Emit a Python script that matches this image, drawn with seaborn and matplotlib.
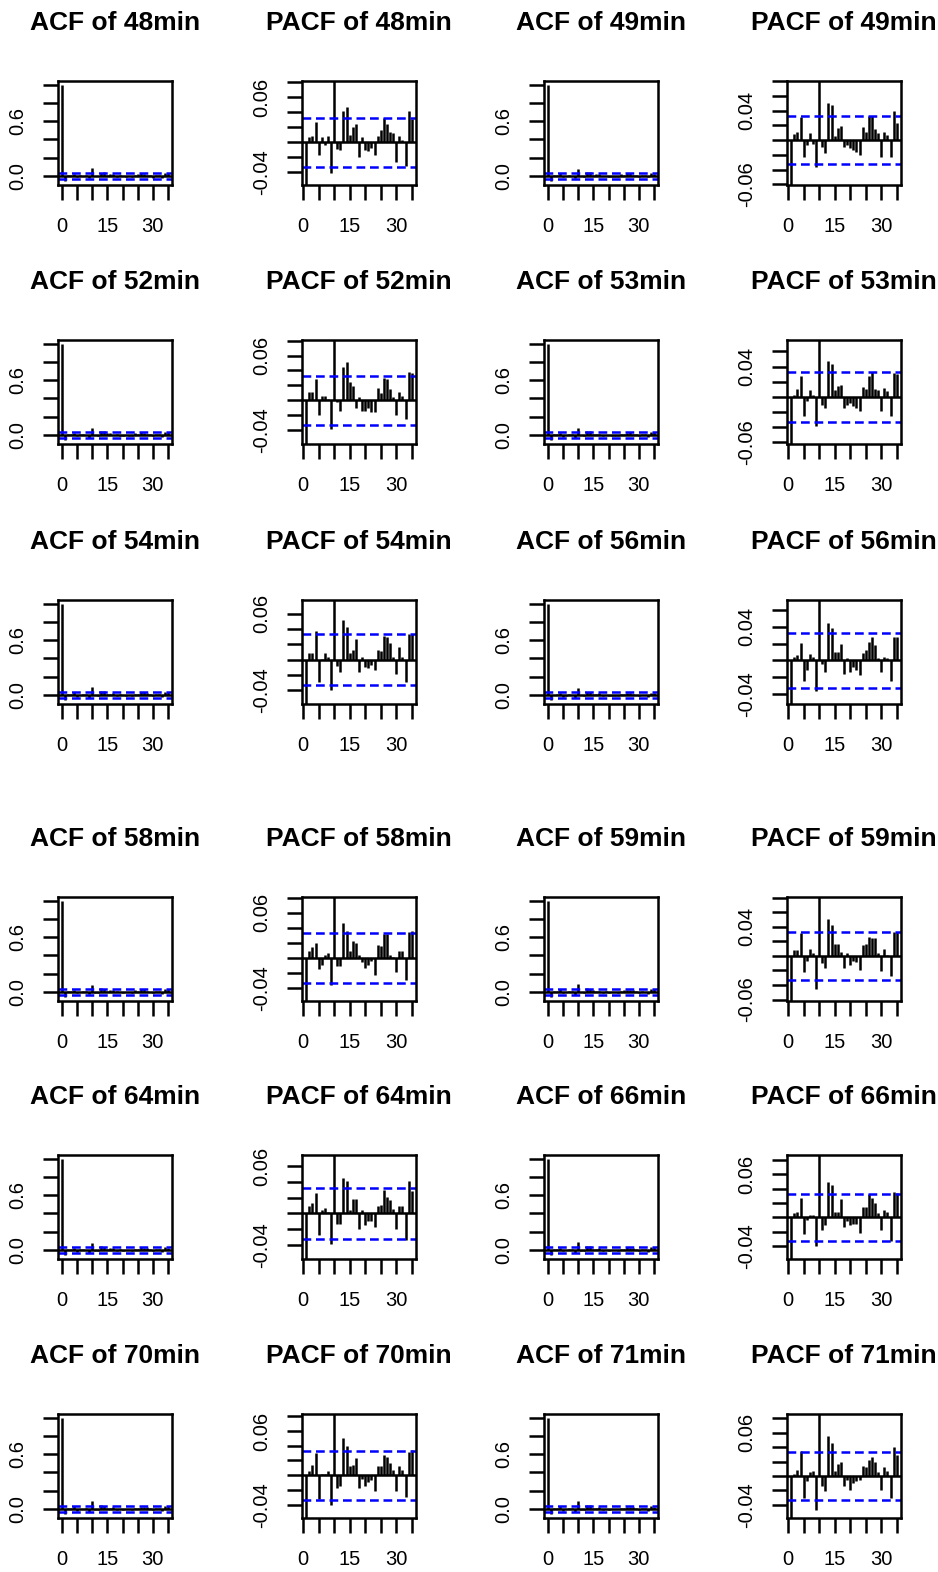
import numpy as np
import matplotlib
matplotlib.use("Agg")
import matplotlib.pyplot as plt
from matplotlib.ticker import FixedLocator, FixedFormatter
import seaborn as sns

# ---------------- data ----------------
series_names = ["48min", "49min", "52min", "53min", "54min", "56min",
                "58min", "59min", "64min", "66min", "70min", "71min"]

# ACF values, lags 0..35
acf_48 = [1.0, -0.060, 0.008, 0.010, 0.022, -0.015, 0.006, -0.004, 0.010, -0.030, 0.080, -0.008, -0.006, 0.035, 0.040, 0.012, 0.018, 0.020, -0.015, 0.006, -0.008, -0.010, -0.008, -0.015, 0.008, 0.014, 0.026, 0.022, 0.012, 0.010, -0.020, 0.007, 0.004, -0.025, 0.034, 0.026]
acf_49 = [1.0, -0.060, 0.007, 0.010, 0.026, -0.019, -0.006, 0.008, -0.004, -0.028, 0.078, -0.007, -0.015, 0.042, 0.040, 0.005, 0.014, 0.016, -0.008, -0.006, -0.009, -0.012, -0.013, -0.016, 0.014, 0.009, 0.028, 0.027, 0.013, 0.008, -0.019, 0.009, 0.006, -0.019, 0.033, 0.020]
acf_52 = [1.0, -0.060, 0.009, 0.009, 0.023, -0.016, 0.005, 0.005, 0.002, -0.031, 0.078, -0.003, -0.012, 0.037, 0.043, 0.020, 0.016, -0.008, 0.004, -0.012, -0.011, -0.008, -0.013, -0.013, 0.014, 0.008, 0.025, 0.024, 0.012, 0.004, -0.016, 0.009, 0.005, -0.021, 0.031, 0.030]
acf_53 = [1.0, -0.060, 0.003, 0.009, 0.022, -0.021, -0.004, 0.008, 0.003, -0.031, 0.076, -0.008, -0.012, 0.039, 0.036, 0.008, 0.012, 0.013, -0.012, -0.008, -0.007, -0.010, -0.012, -0.015, 0.011, 0.008, 0.022, 0.027, 0.008, 0.008, -0.015, 0.010, 0.007, -0.021, 0.027, 0.025]
acf_54 = [1.0, -0.060, 0.008, 0.008, 0.031, -0.024, 0.001, 0.008, 0.004, -0.033, 0.080, -0.007, -0.013, 0.043, 0.036, 0.008, 0.011, 0.022, -0.013, 0.004, -0.008, -0.009, -0.006, -0.011, 0.011, 0.009, 0.026, 0.025, 0.018, 0.004, -0.016, 0.013, 0.004, -0.024, 0.028, 0.028]
acf_56 = [1.0, -0.058, 0.004, 0.005, 0.018, -0.020, -0.010, 0.007, 0.004, -0.030, 0.074, -0.004, -0.012, 0.036, 0.032, 0.008, 0.008, 0.017, -0.013, 0.003, -0.012, -0.007, -0.010, -0.014, 0.008, 0.010, 0.018, 0.023, 0.015, 0.003, -0.012, 0.004, 0.003, -0.020, 0.023, 0.023]
acf_58 = [1.0, -0.060, 0.008, 0.012, 0.017, -0.012, -0.008, 0.004, 0.006, -0.030, 0.078, -0.009, -0.009, 0.039, 0.030, 0.008, 0.018, 0.017, 0.004, -0.004, -0.011, -0.008, -0.004, -0.018, 0.014, 0.013, 0.027, 0.026, 0.004, 0.002, -0.015, 0.008, 0.008, -0.024, 0.029, 0.030]
acf_59 = [1.0, -0.060, 0.007, 0.007, 0.026, -0.018, -0.006, 0.008, 0.004, -0.037, 0.080, -0.008, -0.014, 0.042, 0.035, 0.014, 0.013, 0.005, -0.014, 0.004, -0.010, -0.006, -0.008, -0.016, 0.013, 0.014, 0.022, 0.020, 0.020, 0.004, -0.017, 0.008, 0.001, -0.023, 0.027, 0.027]
acf_64 = [1.0, -0.060, 0.008, 0.011, 0.022, -0.023, 0.004, 0.006, 0.002, -0.032, 0.076, -0.011, -0.011, 0.037, 0.035, 0.004, 0.015, 0.015, -0.017, 0.004, -0.012, -0.008, -0.008, -0.014, 0.008, 0.009, 0.025, 0.018, 0.014, 0.005, -0.017, 0.008, 0.008, -0.028, 0.035, 0.024]
acf_66 = [1.0, -0.060, 0.005, 0.007, 0.022, -0.019, -0.004, 0.003, 0.003, -0.033, 0.082, -0.015, -0.009, 0.041, 0.037, 0.006, 0.007, 0.021, -0.011, -0.004, -0.009, -0.008, -0.008, -0.018, 0.013, 0.013, 0.027, 0.022, 0.017, 0.005, -0.014, 0.009, 0.007, -0.027, 0.029, 0.028]
acf_70 = [1.0, -0.060, 0.005, 0.012, 0.025, -0.027, 0.001, 0.001, 0.005, -0.033, 0.080, -0.015, -0.012, 0.042, 0.032, 0.010, 0.012, 0.019, -0.014, -0.004, -0.012, -0.008, -0.005, -0.017, 0.010, 0.010, 0.023, 0.021, 0.014, 0.006, -0.018, 0.010, 0.006, -0.025, 0.027, 0.028]
acf_71 = [1.0, -0.060, 0.003, 0.008, 0.029, -0.025, -0.006, 0.004, 0.006, -0.039, 0.082, -0.012, -0.017, 0.045, 0.037, 0.006, 0.013, 0.016, -0.012, -0.005, -0.016, -0.008, -0.006, -0.004, 0.012, 0.010, 0.018, 0.022, 0.016, 0.004, -0.017, 0.010, 0.006, -0.025, 0.033, 0.024]

# PACF values, lags 1..35
pacf_48 = [-0.065, 0.007, 0.008, 0.027, -0.017, 0.007, -0.004, 0.009, -0.041, 0.090, -0.009, -0.010, 0.042, 0.047, 0.010, 0.020, 0.025, -0.019, 0.007, -0.010, -0.012, -0.008, -0.017, 0.009, 0.016, 0.032, 0.025, 0.014, 0.012, -0.026, 0.008, 0.003, -0.032, 0.042, 0.031]
pacf_49 = [-0.065, 0.008, 0.011, 0.031, -0.023, -0.007, 0.009, -0.005, -0.036, 0.090, -0.009, -0.018, 0.050, 0.048, 0.005, 0.016, 0.019, -0.009, -0.007, -0.011, -0.014, -0.016, -0.020, 0.017, 0.011, 0.033, 0.033, 0.015, 0.010, -0.023, 0.011, 0.007, -0.023, 0.040, 0.023]
pacf_52 = [-0.065, 0.011, 0.011, 0.028, -0.020, 0.006, 0.006, 0.002, -0.039, 0.090, -0.003, -0.014, 0.044, 0.052, 0.024, 0.019, -0.010, 0.004, -0.014, -0.014, -0.010, -0.016, -0.016, 0.017, 0.010, 0.030, 0.029, 0.015, 0.004, -0.020, 0.011, 0.006, -0.025, 0.038, 0.036]
pacf_53 = [-0.065, 0.003, 0.011, 0.027, -0.025, -0.005, 0.009, 0.003, -0.038, 0.090, -0.010, -0.014, 0.047, 0.043, 0.009, 0.014, 0.016, -0.014, -0.010, -0.008, -0.012, -0.014, -0.018, 0.013, 0.010, 0.027, 0.033, 0.010, 0.009, -0.018, 0.012, 0.008, -0.025, 0.032, 0.030]
pacf_54 = [-0.065, 0.009, 0.009, 0.038, -0.029, 0.001, 0.009, 0.004, -0.040, 0.090, -0.008, -0.016, 0.052, 0.043, 0.009, 0.013, 0.027, -0.016, 0.004, -0.009, -0.011, -0.007, -0.013, 0.013, 0.011, 0.031, 0.030, 0.022, 0.004, -0.019, 0.016, 0.004, -0.029, 0.034, 0.034]
pacf_56 = [-0.065, 0.004, 0.006, 0.021, -0.024, -0.012, 0.008, 0.004, -0.036, 0.090, -0.004, -0.014, 0.044, 0.039, 0.010, 0.010, 0.020, -0.016, 0.003, -0.014, -0.008, -0.012, -0.017, 0.009, 0.012, 0.022, 0.028, 0.018, 0.003, -0.014, 0.004, 0.003, -0.024, 0.028, 0.028]
pacf_58 = [-0.065, 0.009, 0.014, 0.020, -0.014, -0.009, 0.004, 0.007, -0.036, 0.090, -0.011, -0.011, 0.047, 0.036, 0.009, 0.022, 0.020, 0.004, -0.005, -0.013, -0.009, -0.004, -0.022, 0.017, 0.016, 0.032, 0.032, 0.004, 0.002, -0.018, 0.009, 0.009, -0.029, 0.035, 0.036]
pacf_59 = [-0.065, 0.008, 0.008, 0.031, -0.022, -0.007, 0.010, 0.004, -0.045, 0.090, -0.010, -0.017, 0.051, 0.042, 0.017, 0.016, 0.006, -0.017, 0.004, -0.012, -0.007, -0.009, -0.019, 0.015, 0.017, 0.026, 0.024, 0.024, 0.004, -0.021, 0.010, 0.001, -0.028, 0.033, 0.033]
pacf_64 = [-0.065, 0.009, 0.013, 0.026, -0.028, 0.004, 0.007, 0.002, -0.039, 0.090, -0.013, -0.013, 0.045, 0.042, 0.004, 0.018, 0.018, -0.020, 0.004, -0.015, -0.010, -0.009, -0.017, 0.009, 0.011, 0.030, 0.021, 0.017, 0.006, -0.020, 0.010, 0.009, -0.034, 0.042, 0.029]
pacf_66 = [-0.065, 0.006, 0.008, 0.027, -0.023, -0.004, 0.003, 0.003, -0.040, 0.090, -0.018, -0.011, 0.050, 0.045, 0.007, 0.008, 0.025, -0.013, -0.005, -0.011, -0.009, -0.009, -0.022, 0.015, 0.015, 0.032, 0.027, 0.020, 0.006, -0.017, 0.011, 0.008, -0.033, 0.035, 0.034]
pacf_70 = [-0.065, 0.006, 0.014, 0.030, -0.032, 0.001, 0.001, 0.006, -0.040, 0.090, -0.018, -0.015, 0.051, 0.039, 0.012, 0.014, 0.023, -0.017, -0.005, -0.015, -0.009, -0.006, -0.021, 0.012, 0.012, 0.028, 0.025, 0.017, 0.007, -0.022, 0.012, 0.007, -0.030, 0.032, 0.034]
pacf_71 = [-0.065, 0.003, 0.009, 0.035, -0.030, -0.007, 0.005, 0.007, -0.047, 0.090, -0.014, -0.021, 0.055, 0.045, 0.007, 0.016, 0.019, -0.014, -0.006, -0.019, -0.009, -0.007, -0.005, 0.014, 0.012, 0.022, 0.026, 0.019, 0.005, -0.020, 0.012, 0.007, -0.030, 0.040, 0.029]

acf_values = [acf_48, acf_49, acf_52, acf_53, acf_54, acf_56,
              acf_58, acf_59, acf_64, acf_66, acf_70, acf_71]
pacf_values = [pacf_48, pacf_49, pacf_52, pacf_53, pacf_54, pacf_56,
               pacf_58, pacf_59, pacf_64, pacf_66, pacf_70, pacf_71]

# y-range of every PACF panel (the lag-1 and lag-10 spikes run off the box)
pacf_ylim_low = [-0.057, -0.061, -0.059, -0.062, -0.058, -0.052,
                 -0.057, -0.062, -0.058, -0.058, -0.058, -0.058]
pacf_ylim_high = [0.082, 0.080, 0.081, 0.075, 0.078, 0.072,
                  0.081, 0.081, 0.0745, 0.087, 0.083, 0.0857]
# y tick labels that R managed to print on each PACF panel
pacf_shown_labels = [(-0.04, 0.06), (-0.06, 0.04), (-0.04, 0.06), (-0.06, 0.04),
                     (-0.04, 0.06), (-0.04, 0.04), (-0.04, 0.06), (-0.06, 0.04),
                     (-0.04, 0.06), (-0.04, 0.06), (-0.04, 0.06), (-0.04, 0.06)]

ci_bound = 0.033

lag_ticks = [0, 5, 10, 15, 20, 25, 30, 35]
lag_labels = ["0", "", "", "15", "", "", "30", ""]
acf_ticks = [0.0, 0.2, 0.4, 0.6, 0.8, 1.0]
acf_tick_labels = ["0.0", "", "", "0.6", "", ""]

# ---------------- style / layout ----------------
sns.set_theme(style="white")
plt.rcParams['font.family'] = ['Liberation Sans', 'DejaVu Sans']
plt.rcParams['axes.unicode_minus'] = False

W, H = 938, 1572
fig = plt.figure(figsize=(W / 100, H / 100), dpi=100)
fig.patch.set_facecolor("white")

col_left = [58, 302, 544, 787]
row_top = [81, 340, 600, 897, 1155, 1414]
box_w, box_h = 114, 104

LW = 1.8
TICK_FS = 14.5
TITLE_FS = 19.0
CI_DASH = (0, (3.5, 1.9))


def make_axes(row, col):
    left = col_left[col] / W
    bottom = 1 - (row_top[row] + box_h) / H
    ax = fig.add_axes([left, bottom, box_w / W, box_h / H])
    ax.set_facecolor("white")
    ax.grid(False)
    for sp in ax.spines.values():
        sp.set_visible(True)
        sp.set_linewidth(LW)
        sp.set_color("black")
    ax.tick_params(axis="both", direction="out", length=10.8, width=LW,
                   color="black", labelsize=TICK_FS, labelcolor="black",
                   bottom=True, left=True, top=False, right=False)
    ax.tick_params(axis="x", pad=12.0)
    ax.tick_params(axis="y", pad=11.5, labelrotation=90)
    return ax


def finish_y_labels(ax):
    for lab in ax.get_yticklabels():
        lab.set_va("center")
        lab.set_ha("right")


def add_title(ax, text):
    ax.text(0.5, 1 + 51 / box_h, text, transform=ax.transAxes,
            ha="center", va="baseline", fontsize=TITLE_FS,
            fontweight="bold", color="black")


def draw_acf(ax, vals, name):
    lags = np.arange(len(vals))
    ax.vlines(lags, 0, vals, color="black", lw=LW)
    ax.axhline(0, color="black", lw=LW)
    ax.axhline(ci_bound, color="blue", lw=LW, ls=CI_DASH)
    ax.axhline(-ci_bound, color="blue", lw=LW, ls=CI_DASH)
    lo = min(min(vals), -ci_bound)
    hi = max(max(vals), ci_bound)
    pad = 0.04 * (hi - lo)
    ax.set_ylim(lo - pad, hi + pad)
    xpad = 0.04 * (lags[-1] - lags[0])
    ax.set_xlim(lags[0] - xpad, lags[-1] + xpad)
    ax.xaxis.set_major_locator(FixedLocator(lag_ticks))
    ax.xaxis.set_major_formatter(FixedFormatter(lag_labels))
    ax.yaxis.set_major_locator(FixedLocator(acf_ticks))
    ax.yaxis.set_major_formatter(FixedFormatter(acf_tick_labels))
    finish_y_labels(ax)
    add_title(ax, f"ACF of {name}")


def draw_pacf(ax, vals, name, lo, hi, shown):
    lags = np.arange(1, len(vals) + 1)
    ax.vlines(lags, 0, vals, color="black", lw=LW)
    ax.axhline(0, color="black", lw=LW)
    ax.axhline(ci_bound, color="blue", lw=LW, ls=CI_DASH)
    ax.axhline(-ci_bound, color="blue", lw=LW, ls=CI_DASH)
    ax.set_ylim(lo, hi)
    xpad = 0.04 * (lags[-1] - lags[0])
    ax.set_xlim(lags[0] - xpad, lags[-1] + xpad)
    ax.xaxis.set_major_locator(FixedLocator(lag_ticks))
    ax.xaxis.set_major_formatter(FixedFormatter(lag_labels))
    k0 = int(np.ceil(lo / 0.02 - 1e-9))
    k1 = int(np.floor(hi / 0.02 + 1e-9))
    yt = [k * 0.02 for k in range(k0, k1 + 1)]
    ylabs = [f"{v:.2f}" if any(abs(v - s) < 1e-9 for s in shown) else "" for v in yt]
    ax.yaxis.set_major_locator(FixedLocator(yt))
    ax.yaxis.set_major_formatter(FixedFormatter(ylabs))
    finish_y_labels(ax)
    add_title(ax, f"PACF of {name}")


for i, name in enumerate(series_names):
    row = i // 2
    col0 = (i % 2) * 2
    ax_a = make_axes(row, col0)
    draw_acf(ax_a, acf_values[i], name)
    ax_p = make_axes(row, col0 + 1)
    draw_pacf(ax_p, pacf_values[i], name, pacf_ylim_low[i], pacf_ylim_high[i],
              pacf_shown_labels[i])

fig.savefig("out.png", dpi=100, facecolor="white")
